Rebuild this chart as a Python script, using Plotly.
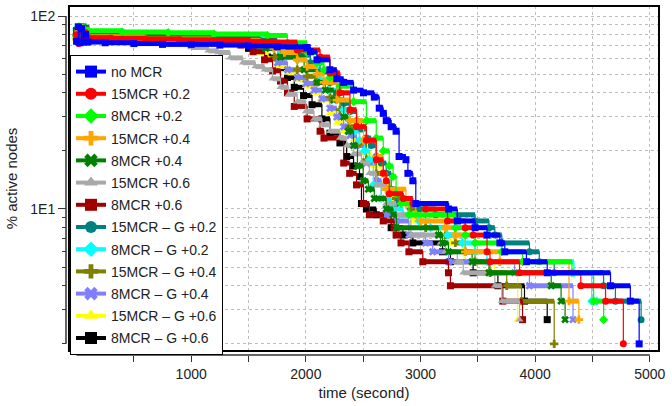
import math
import plotly.graph_objects as go

# ---------------- data (time in seconds, % active nodes) ----------------
NAMES = ["no MCR", "15MCR +0.2", "8MCR +0.2", "15MCR +0.4", "8MCR +0.4",
         "15MCR +0.6", "8MCR +0.6", "15MCR \u2013 G +0.2", "8MCR \u2013 G +0.2",
         "15MCR \u2013 G +0.4", "8MCR \u2013 G +0.4", "15MCR \u2013 G +0.6",
         "8MCR \u2013 G +0.6"]

T_NOMCR = [0, 15, 30, 45, 60, 80, 100, 250, 500, 750, 1000, 1250, 1500, 1750, 2011, 2040, 2097, 2210, 2270, 2330,
           2416, 2503, 2597, 2640, 2675, 2701, 2744, 2787, 2813, 2873, 2890, 2933, 2959, 3245, 3321, 3476, 3580,
           3692, 3735, 3924, 4105, 4657, 4830, 4907]
V_NOMCR = [74, 88, 72.7, 86, 73.3, 80, 73.3, 72.7, 72, 71.3, 71.3, 70.7, 70, 69.3, 68.7, 65.3, 59.3, 52.7, 47.3, 45.3,
           41.3, 40, 38, 33.3, 31.3, 28.7, 26.7, 25.3, 18.7, 18, 15.3, 14, 10.67, 10, 8.67, 8, 7.33,
           6.67, 6, 5.33, 4.67, 4, 3.33, 2]

T_15_02 = [0, 20, 40, 60, 80, 100, 300, 600, 900, 1200, 1500, 1727, 1925, 2124, 2210, 2297, 2385, 2442, 2528, 2614,
           2675, 2701, 2727, 2850, 2933, 3045, 3235, 3390, 3459, 3580, 3606, 3864, 4398, 4614, 4769]
V_15_02 = [80, 72, 84, 75.3, 82, 77.3, 76.7, 76, 75.3, 74.7, 74, 73.3, 66.7, 61.3, 50.7, 40, 32.7, 26.7, 22.7, 18,
           15.3, 14, 12, 11.33, 10.67, 10, 8.67, 8, 7.33, 6, 5.33, 4.67, 4, 3.33, 2]

T_8_02 = [0, 20, 40, 60, 80, 100, 400, 800, 1200, 1666, 1839, 2011, 2097, 2158, 2210, 2297, 2416, 2528, 2614, 2675,
          2727, 2761, 2787, 2830, 2899, 3304, 3390, 3476, 3709, 3890, 4321, 4510, 4597]
V_8_02 = [78, 88, 80, 86.7, 82, 84, 82.7, 82, 80.7, 79.3, 72.7, 64.7, 57.3, 52.7, 48, 43.3, 36, 28.7, 23.3, 20,
          16.7, 14.7, 12, 10.67, 9.33, 8, 7.33, 6.67, 6, 5.33, 4.67, 3.33, 2.67]

T_15_04 = [0, 20, 40, 60, 80, 100, 600, 1200, 1600, 1720, 1813, 1925, 2011, 2097, 2158, 2270, 2382, 2503, 2614, 2675,
           2701, 2873, 2959, 3002, 3218, 3304, 3390, 3692, 4295, 4381]
V_15_04 = [76, 84, 74, 86, 78, 78, 76, 74.7, 72.7, 68, 64.7, 59.3, 54.7, 50, 45.3, 36.7, 28.7, 22.7, 18.7, 15.3,
           12.67, 10.67, 9.33, 8.67, 8, 7.33, 6, 5.33, 3.33, 2.67]

T_8_04 = [0, 20, 40, 60, 80, 100, 600, 1200, 1520, 1650, 1779, 1985, 2097, 2170, 2244, 2330, 2370, 2416, 2450, 2500,
          2545, 2597, 2701, 2761, 2790, 3157, 3192, 3244, 3450, 3597, 4140, 4226, 4261]
V_8_04 = [82, 76, 86, 78, 84, 80, 78, 76, 73.3, 68, 61.3, 52.7, 45.3, 41.3, 36.7, 30, 25.3, 21.3, 16.7, 14,
          12.67, 11.33, 10, 9.33, 8, 7.33, 6.67, 6, 5.33, 4.67, 4, 3.33, 2.67]

T_15_06 = [0, 20, 40, 60, 80, 100, 400, 800, 1000, 1150, 1237, 1340, 1450, 1560, 1640, 1710, 1779, 1850, 1925, 2000,
           2071, 2140, 2210, 2297, 2356, 2416, 2485, 2554, 2614, 2701, 2787, 2916, 3174, 3218, 3321, 3373, 3648,
           3709, 3864]
V_15_06 = [80, 74, 84, 76, 82, 76, 74, 71.3, 68.7, 66, 64.7, 60.7, 57.3, 54.7, 52.7, 47.3, 42.7, 39.3, 36, 32,
           29.3, 27.3, 25.3, 23.3, 21.3, 19.3, 17.3, 15.3, 13.33, 10.67, 9.33, 7.33, 6.67, 6, 5.33, 4.67, 4,
           3.33, 2.67]

T_8_06 = [0, 20, 40, 60, 80, 100, 500, 900, 1200, 1434, 1540, 1640, 1710, 1779, 1840, 1899, 2011, 2124, 2158, 2330,
          2382, 2442, 2503, 2554, 2675, 2770, 2787, 2830, 2899, 3020, 3244, 3261, 3718, 3890]
V_8_06 = [84, 76, 82, 74, 86, 79, 77, 75, 73.3, 70.7, 65.3, 59.3, 52, 46, 40, 34, 29.3, 25.3, 23.3, 17.3,
          15.3, 13.33, 10.67, 9.33, 8.67, 8, 7.33, 6.67, 6, 5.33, 4.67, 4, 3.33, 2.67]

T_15G_02 = [0, 20, 40, 60, 80, 100, 600, 1200, 1600, 1750, 1839, 1940, 2040, 2124, 2210, 2270, 2330, 2385, 2442, 2485,
            2528, 2570, 2614, 2658, 2701, 2744, 2787, 2985, 3131, 3476, 3597, 3648, 3709, 3950, 4036, 4166, 4597,
            4700, 4924]
V_15G_02 = [78, 86, 80, 88, 76, 81, 79, 77, 74.7, 71.3, 68.7, 62.7, 57.3, 51.3, 45.3, 40, 35.3, 32, 28.7, 26,
            23.3, 21.3, 18.7, 17.3, 15.3, 12.67, 10.67, 10, 9.33, 8.67, 8, 7.33, 6.67, 6, 5.33, 4.67, 4,
            3.33, 2.67]

T_8G_02 = [0, 20, 40, 60, 80, 100, 600, 1200, 1640, 1780, 1925, 2011, 2124, 2200, 2270, 2330, 2382, 2430, 2468, 2510,
           2554, 2589, 2658, 2744, 2847, 2985, 3088, 3235, 3364, 3476, 3580, 4338, 4493, 4536]
V_8G_02 = [86, 78, 84, 80, 88, 82, 80, 78, 73.3, 66, 59.3, 53.3, 46.7, 41.3, 36.7, 32.7, 28.7, 25.3, 22.7, 20,
           18, 13.33, 11.33, 10, 9.33, 8.67, 8, 7.33, 6.67, 6, 5.33, 4.67, 3.33, 3.33]

T_15G_04 = [0, 20, 40, 60, 80, 100, 600, 1200, 1550, 1727, 1925, 2011, 2097, 2210, 2297, 2382, 2468, 2528, 2614, 2701,
            2787, 2916, 3045, 3218, 3304, 3390, 3476, 3606, 3752, 3881, 4166]
V_15G_04 = [80, 86, 76, 82, 78, 79, 77, 74, 68, 61.3, 52.7, 48.7, 45.3, 38, 32.7, 26.7, 22, 18, 15.3, 12.67,
            11.33, 10, 8, 7.33, 6.67, 6, 5.33, 4.67, 4, 3.33, 2]

T_8G_04 = [0, 20, 40, 60, 80, 100, 600, 1200, 1600, 1753, 1840, 1925, 2000, 2071, 2140, 2210, 2270, 2330, 2385, 2442,
           2528, 2614, 2658, 2701, 2787, 2899, 3045, 3106, 3244, 3821, 3950, 4330]
V_8G_04 = [82, 76, 88, 78, 84, 80, 78, 75, 68, 57.3, 52.7, 48, 44.7, 41.3, 37.3, 33.3, 30, 26.7, 24, 21.3,
           17.3, 14, 11.33, 9.33, 8.67, 7.33, 6.67, 6, 5.33, 4.67, 4, 2.67]

T_15G_06 = [0, 20, 40, 60, 80, 100, 600, 1200, 1580, 1670, 1753, 1840, 1925, 2000, 2071, 2124, 2210, 2270, 2330, 2416,
            2503, 2572, 2658, 2744, 2830, 2890, 2933, 3045, 3174, 3261, 3364, 3390, 3648, 3847]
V_15G_06 = [76, 84, 80, 86, 74, 78, 76, 72, 64.7, 60, 54.7, 50.7, 46.7, 43.3, 40, 36.7, 31.3, 28, 25.3, 22.7,
            19.3, 16.7, 13.33, 11.33, 10.67, 9.33, 8.67, 8, 7.33, 6.67, 6, 5.33, 4.67, 2.67]

T_8G_06 = [0, 20, 40, 60, 80, 100, 600, 1000, 1321, 1500, 1666, 1779, 1840, 1899, 1980, 2054, 2140, 2210, 2297, 2356,
           2416, 2468, 2485, 2528, 2614, 2744, 2847, 2933, 3192, 3261, 3459, 3675, 3907, 4105]
V_8G_06 = [80, 74, 86, 78, 82, 78, 76, 74.7, 73.3, 68, 61.3, 54, 48, 42.7, 38.7, 34.7, 29.3, 24.7, 22, 18.7,
           16.7, 14.7, 10.67, 10, 9.33, 8, 7.33, 6.67, 6, 5.33, 4.67, 4, 3.33, 2.67]

X_TICKS = [1000, 2000, 3000, 4000, 5000]
X_MINOR = [500, 1500, 2500, 3500, 4500]
Y_TICKS = [10, 100]
Y_TICKTEXT = ["1E1", "1E2"]
Y_MINOR = [2, 3, 4, 5, 6, 7, 8, 9, 20, 30, 40, 50, 60, 70, 80, 90]

# ---------------- styling ----------------
COLORS = ["#0000FF", "#FF0000", "#00FF00", "#FFA500", "#008000", "#A9A9A9", "#A00000",
          "#008080", "#00FFFF", "#808000", "#8080FF", "#FFFF00", "#000000"]
SYMBOLS = ["square", "circle", "diamond", "cross", "x", "triangle-up", "square",
           "circle", "diamond", "cross", "x", "triangle-up", "square"]

SERIES = [(T_NOMCR, V_NOMCR), (T_15_02, V_15_02), (T_8_02, V_8_02), (T_15_04, V_15_04),
          (T_8_04, V_8_04), (T_15_06, V_15_06), (T_8_06, V_8_06), (T_15G_02, V_15G_02),
          (T_8G_02, V_8G_02), (T_15G_04, V_15G_04), (T_8G_04, V_8G_04), (T_15G_06, V_15G_06),
          (T_8G_06, V_8G_06)]

X_RANGE = [-66, 5080]
Y_RANGE = [0.264, 2.052]

fig = go.Figure()

# legend entries (no data)
for i, name in enumerate(NAMES):
    fig.add_trace(go.Scatter(
        x=[None], y=[None], mode="lines+markers", name=name, legendgroup=str(i),
        line=dict(color=COLORS[i], width=4),
        marker=dict(symbol=SYMBOLS[i], size=12, color=COLORS[i], line=dict(width=0)),
    ))

# data traces, drawn last-to-first so "no MCR" ends on top
for i in reversed(range(len(SERIES))):
    t, v = SERIES[i]
    bx, by = [], []
    for k in range(len(t) - 1):
        bx += [t[k], t[k + 1], None]
        by += [v[k], v[k], None]
    fig.add_trace(go.Scatter(
        x=bx, y=by, mode="lines", showlegend=False, hoverinfo="skip",
        line=dict(color=COLORS[i], width=5),
    ))
    fig.add_trace(go.Scatter(
        x=t, y=v, mode="lines+markers", showlegend=False, name=NAMES[i],
        line=dict(color=COLORS[i], width=1.2, shape="hv"),
        marker=dict(symbol=SYMBOLS[i], size=7, color=COLORS[i], line=dict(width=0)),
    ))

GRID = "#BDBDBD"
fig.update_layout(
    width=672, height=406,
    margin=dict(l=66, r=6, t=6, b=51),
    plot_bgcolor="white", paper_bgcolor="white",
    font=dict(family="Arial", size=14, color="#222222"),
    xaxis=dict(
        domain=[0.005, 1], range=X_RANGE, anchor="free", position=0,
        showline=False, zeroline=False, ticklabeloverflow="allow",
        tickmode="array", tickvals=X_TICKS, ticks="outside", ticklen=6, tickwidth=1, tickcolor="#333333",
        showgrid=True, gridcolor=GRID, griddash="dot", gridwidth=1,
        minor=dict(tickmode="array", tickvals=X_MINOR, ticks="outside", ticklen=6, tickcolor="#333333",
                   showgrid=True, gridcolor=GRID, griddash="dot", gridwidth=1),
        tickfont=dict(size=14, color="#222222"),
        title=dict(text="time (second)", font=dict(size=15, color="#222222"), standoff=6),
    ),
    yaxis=dict(
        type="log", domain=[0.01146, 1], range=Y_RANGE, anchor="free", position=0,
        showline=False, zeroline=False,
        tickmode="array", tickvals=Y_TICKS, ticktext=Y_TICKTEXT, ticks="outside", ticklen=8,
        tickwidth=1, tickcolor="#333333",
        showgrid=True, gridcolor=GRID, griddash="dot", gridwidth=1,
        minor=dict(tickmode="array", tickvals=Y_MINOR, ticks="outside", ticklen=4, tickcolor="#333333",
                   showgrid=True, gridcolor=GRID, griddash="dot", gridwidth=1),
        tickfont=dict(size=14, color="#222222"),
        title=dict(text="% active nodes", font=dict(size=15, color="#222222"), standoff=8),
    ),
    legend=dict(
        x=0.0067, y=0.8596, xanchor="left", yanchor="top",
        bgcolor="white", bordercolor="black", borderwidth=1,
        font=dict(family="Arial", size=14, color="#222222"),
        tracegroupgap=1, itemsizing="trace",
    ),
)

y_lo = (math.log10(2) - Y_RANGE[0]) / (Y_RANGE[1] - Y_RANGE[0])
y_hi = (math.log10(100) - Y_RANGE[0]) / (Y_RANGE[1] - Y_RANGE[0])
fig.update_layout(shapes=[
    dict(type="rect", xref="x domain", yref="y domain", x0=0, x1=1, y0=0, y1=1,
         line=dict(color="black", width=2), layer="above"),
    dict(type="line", xref="x", yref="paper", x0=0, x1=5000, y0=0, y1=0,
         line=dict(color="#333333", width=1.5)),
    dict(type="line", xref="paper", yref="y domain", x0=0, x1=0, y0=y_lo, y1=y_hi,
         line=dict(color="#333333", width=1.5)),
])

fig.write_html("out.html")
